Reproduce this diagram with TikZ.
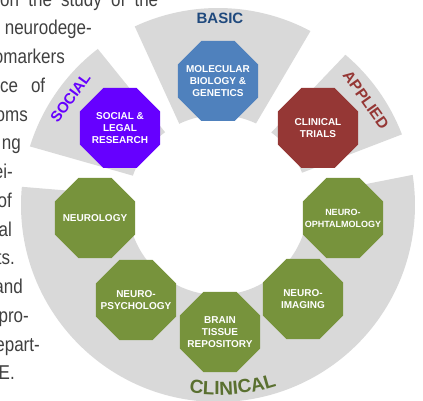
\documentclass[tikz,border=0pt]{standalone}
\usepackage{fontspec}
\setmainfont{Liberation Sans}
\newfontfamily\bodyfont[FakeStretch=0.85]{Liberation Sans}
\usetikzlibrary{shapes.geometric,decorations.text}
\definecolor{band}{HTML}{D9D9D9}
\definecolor{basicblue}{HTML}{4F81BD}
\definecolor{basicdark}{HTML}{1F497D}
\definecolor{applred}{HTML}{953735}
\definecolor{socpurple}{HTML}{6600FF}
\definecolor{clingreen}{HTML}{77933C}
\definecolor{clindark}{HTML}{5A7030}
\definecolor{bodygray}{HTML}{404040}
\begin{document}
\begin{tikzpicture}[x=1pt,y=1pt,
  oct/.style={regular polygon, regular polygon sides=8, minimum size=86.6pt, inner sep=0pt, draw=none, fill=#1},
  octtext/.style={text=white, font=\bfseries\fontsize{10}{12.3}\selectfont, align=center, inner sep=0pt},
  octsmall/.style={text=white, font=\bfseries\fontsize{9}{12}\selectfont, align=center, inner sep=0pt},
  bandlabel/.style={font=\bfseries\fontsize{15}{15}\selectfont, inner sep=0pt},
  bodytext/.style={font=\bodyfont\fontsize{20}{20}\selectfont, text=bodygray, inner sep=0pt, anchor=base east},
  bodyleft/.style={font=\bodyfont\fontsize{20}{20}\selectfont, text=bodygray, inner sep=0pt, anchor=base west}
]
\useasboundingbox (-218,-196) rectangle (205,205);
\clip (-218,-196) rectangle (205,205);
% bands
\fill[band] (62:197) arc[start angle=62, end angle=115, radius=197] -- (115.5:90) arc[start angle=115.5, end angle=65, radius=90] -- cycle;
\fill[band] (127.6:197) arc[start angle=127.6, end angle=162.7, radius=197] -- (161:90) arc[start angle=161, end angle=126, radius=90] -- cycle;
\fill[band] (21:197) arc[start angle=21, end angle=49.7, radius=197] -- (53.7:90) arc[start angle=53.7, end angle=21, radius=90] -- cycle;
\fill[band] (174.7:197) arc[start angle=174.7, end angle=368.8, radius=197] -- (366:90) arc[start angle=366, end angle=174, radius=90] -- cycle;
% band labels
\node[bandlabel, text=basicdark] (lbasic) at (2,186.5) {BASIC};
\node[bandlabel, text=socpurple, rotate=54] (lsocial) at (144:182.5) {SOCIAL};
\node[bandlabel, text=applred, rotate=-54.6, font=\bfseries\fontsize{15.5}{15.5}\selectfont] (lapplied) at (35.4:181.5) {APPLIED};
\path[decorate, decoration={text along path, text align=center, text={|\bfseries\fontsize{19}{19}\selectfont\color{clindark}|CLINICAL}}] (244.6:190) arc[start angle=244.6, end angle=304.6, radius=190];
% octagons
\node[oct=basicblue, label={[octtext]center:MOLECULAR\\BIOLOGY \&\\GENETICS}] (mol) at (0,124) {};
\node[oct=applred, label={[octtext]center:CLINICAL\\TRIALS}] (trials) at (100,77) {};
\node[oct=socpurple, label={[octtext]center:SOCIAL \&\\LEGAL\\RESEARCH}] (social) at (-98,77) {};
\node[oct=clingreen, label={[octtext]center:NEUROLOGY}] (neurology) at (-123,-13) {};
\node[oct=clingreen, label={[octtext]center:NEURO-\\PSYCHOLOGY}] (psych) at (-82,-95) {};
\node[oct=clingreen, label={[octtext]center:BRAIN\\TISSUE\\REPOSITORY}] (brain) at (2,-127) {};
\node[oct=clingreen, label={[octtext]center:NEURO-\\IMAGING}] (imaging) at (85,-94) {};
\node[oct=clingreen, label={[octsmall]center:NEURO-\\OPHTALMOLOGY}] (ophth) at (125,-13) {};
% body text fragments
\node[bodyleft] (t1) at (-218,198.75) {\makebox[158pt][s]{on the study of the}};
\node[bodytext] (t2) at (-126,170) {neurodege-};
\node[bodytext] (t3) at (-153,141.25) {omarkers};
\node[bodyleft] (t4) at (-218,112.5) {\makebox[45pt][s]{ce of}};
\node[bodytext] (t5) at (-190,83.75) {oms};
\node[bodytext] (t6) at (-197,55) {ng};
\node[bodytext] (t7) at (-205,26.25) {ei-};
\node[bodytext] (t8) at (-206,-2.5) {of};
\node[bodytext] (t9) at (-206,-31.25) {al};
\node[bodytext] (t10) at (-203,-60) {ts.};
\node[bodytext] (t11) at (-195,-88.75) {and};
\node[bodytext] (t12) at (-189,-117.5) {pro-};
\node[bodytext] (t13) at (-178,-146.25) {depart-};
\node[bodytext] (t14) at (-203,-175) {CE.};
\end{tikzpicture}
\end{document}
